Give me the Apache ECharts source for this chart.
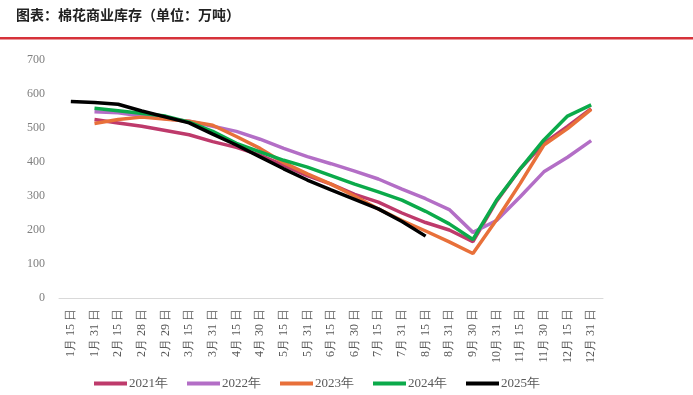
<!DOCTYPE html>
<html><head><meta charset="utf-8">
<script src="https://cdn.jsdelivr.net/npm/echarts@6/dist/echarts.min.js"></script>
<style>html,body{margin:0;padding:0;background:#fff}#c{width:693px;height:395px}</style>
</head><body><div id="c"></div>
<script>
const categories = ['1月15日','1月31日','2月15日','2月28日','2月29日','3月15日','3月31日','4月15日','4月30日','5月15日','5月31日','6月15日','6月30日','7月15日','7月31日','8月15日','8月31日','9月30日','10月31日','11月15日','11月30日','12月15日','12月31日'];
const yTicks = [0,100,200,300,400,500,600,700];
const s2021 = [null,525,515,505,null,480,460,443,420,390,360,335,305,282,250,222,200,166,285,380,455,505,557];
const s2022 = [null,548,545,535,null,520,505,490,467,440,416,395,373,350,320,292,260,193,228,298,371,414,463];
const s2023 = [null,513,525,532,null,520,508,475,440,398,365,335,300,262,228,197,165,131,230,337,450,498,555];
const s2024 = [null,558,551,null,535,517,490,455,430,405,385,360,335,312,288,255,218,172,288,380,465,535,568];
const s2025 = [578,575,570,550,null,515,482,450,415,380,347,318,290,262,225,182,null,null,null,null,null,null,null];
const seriesNames = ['2021年','2022年','2023年','2024年','2025年'];
const colors = ['#BE3A6B','#B36EC6','#E8703A','#0BAA4A','#000000'];
const allData = [s2021,s2022,s2023,s2024,s2025];

const chart = echarts.init(document.getElementById('c'));
chart.setOption({
  animation:false,
  backgroundColor:'#fff',
  graphic:[
    {type:'text',left:16,top:8,style:{text:'图表：棉花商业库存（单位：万吨）',font:'bold 14px "Noto Sans CJK SC"',fill:'#222'}},
    {type:'rect',shape:{x:0,y:37,width:693,height:2.5},style:{fill:'#D6323A'}}
  ],
  color:colors,
  legend:{
    left:89,bottom:0,itemWidth:33,itemHeight:4,itemGap:19,icon:'rect',
    textStyle:{fontFamily:'Liberation Serif',fontSize:13,color:'#595959',padding:[0,0,0,-3]},
    data:seriesNames
  },
  grid:{left:59,right:90,top:60,bottom:97,containLabel:false},
  xAxis:{
    type:'category',data:categories,boundaryGap:true,
    axisLine:{lineStyle:{color:'#d9d9d9',width:1}},
    axisTick:{show:false},
    axisLabel:{rotate:90,interval:0,fontFamily:'Liberation Serif',fontSize:12,color:'#595959',margin:11,
      formatter:v=>v.replace(/(\d+)月(\d+)日/,'$1月 $2 日')}
  },
  yAxis:{
    type:'value',min:yTicks[0],max:yTicks[yTicks.length-1],interval:100,
    axisLine:{show:false},axisTick:{show:false},splitLine:{show:false},
    axisLabel:{fontFamily:'Liberation Serif',fontSize:12,color:'#7f7f7f',margin:14}
  },
  series:seriesNames.map((n,i)=>({
    name:n,type:'line',data:allData[i],connectNulls:true,showSymbol:false,symbol:'none',
    lineStyle:{width:3.5,color:colors[i]},itemStyle:{color:colors[i]}
  }))
});
</script></body></html>
